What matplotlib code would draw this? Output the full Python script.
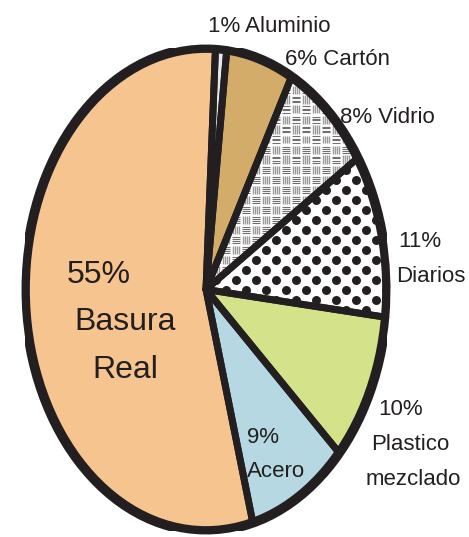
import numpy as np
import matplotlib.pyplot as plt
from matplotlib.patches import Ellipse
from matplotlib.collections import LineCollection

# Composicion de la basura (sentido horario desde arriba)
labels = ['Aluminio', 'Carton', 'Vidrio', 'Diarios', 'Plastico mezclado', 'Acero', 'Basura Real']
values = [1, 6, 8, 11, 10, 9, 55]
colors = ['#e6e7e8', '#d4ac6a', '#ffffff', '#ffffff', '#d4e38a', '#b5d8e3', '#f6c48e']

ink = '#231f20'
W, H = 469, 537
fig = plt.figure(figsize=(W / 100, H / 100), dpi=100)

# ellipse box in pixels (center of the rim line)
x0, x1, y0, y1 = 25, 387, 48, 531
ax = fig.add_axes([x0 / W, 1 - y1 / H, (x1 - x0) / W, (y1 - y0) / H])

start = 87
wedges, _ = ax.pie(values, colors=colors, startangle=start, counterclock=False,
                   wedgeprops=dict(linewidth=0))
edges, _ = ax.pie(values, colors=['none'] * len(values), startangle=start, counterclock=False,
                  wedgeprops=dict(linewidth=5, edgecolor=ink, joinstyle='round'))
for e in edges:
    e.set_zorder(5)
ax.set_aspect('auto')
ax.set_xlim(-1, 1)
ax.set_ylim(-1, 1)
ax.axis('off')

# pixel -> data scale
sx = 2 / (x1 - x0)
sy = 2 / (y1 - y0)

# Vidrio: basket weave texture
hsegs, vsegs = [], []
cell = 10
for i in range(-22, 22):
    for j in range(-28, 28):
        cx, cy = i * cell, j * cell
        if (i + j) % 2 == 0:
            for k in range(4):
                yy = cy - 3 + k * 2
                hsegs.append([((cx - 4) * sx, yy * sy), ((cx + 4) * sx, yy * sy)])
        else:
            for k in range(4):
                xx = cx - 3 + k * 2
                vsegs.append([(xx * sx, (cy - 4) * sy), (xx * sx, (cy + 4) * sy)])
lc1 = LineCollection(hsegs, colors='#707070', linewidths=0.8, zorder=2)
lc2 = LineCollection(vsegs, colors='#9a9a9a', linewidths=1.0, zorder=2)
for lc in (lc1, lc2):
    ax.add_collection(lc)
    lc.set_clip_path(wedges[2])

# Diarios: dot texture
px, py = [], []
for r in range(-30, 30):
    for c in range(-12, 12):
        px.append((c * 20 + (r % 2) * 10) * sx)
        py.append(r * 10 * sy)
dots = ax.scatter(px, py, s=42, color=ink, linewidths=0, zorder=2)
dots.set_clip_path(wedges[3])

# outer rim
ax.add_patch(Ellipse((0, 0), 2, 2, facecolor='none', edgecolor=ink, linewidth=7, zorder=6))

fam = ['Liberation Sans Narrow', 'Liberation Sans', 'DejaVu Sans']


def lab(x, y, s, size=16, ha='left'):
    fig.text(x / W, 1 - y / H, s, fontsize=size, ha=ha, va='baseline',
             color=ink, family=fam)


lab(208, 32, '1% Aluminio')
lab(285, 65, '6% Cartón')
lab(340, 123, '8% Vidrio')
lab(398, 247, '11%')
lab(396, 282, 'Diarios')
lab(401, 415, '10%', ha='center')
lab(410, 450, 'Plastico', ha='center')
lab(413, 485, 'mezclado', ha='center')
lab(247, 443, '9%')
lab(247, 477, 'Acero')
lab(99, 283, '55%', size=23, ha='center')
lab(125, 330, 'Basura', size=23, ha='center')
lab(125, 378, 'Real', size=23, ha='center')

fig.savefig('out.png', dpi=100)
